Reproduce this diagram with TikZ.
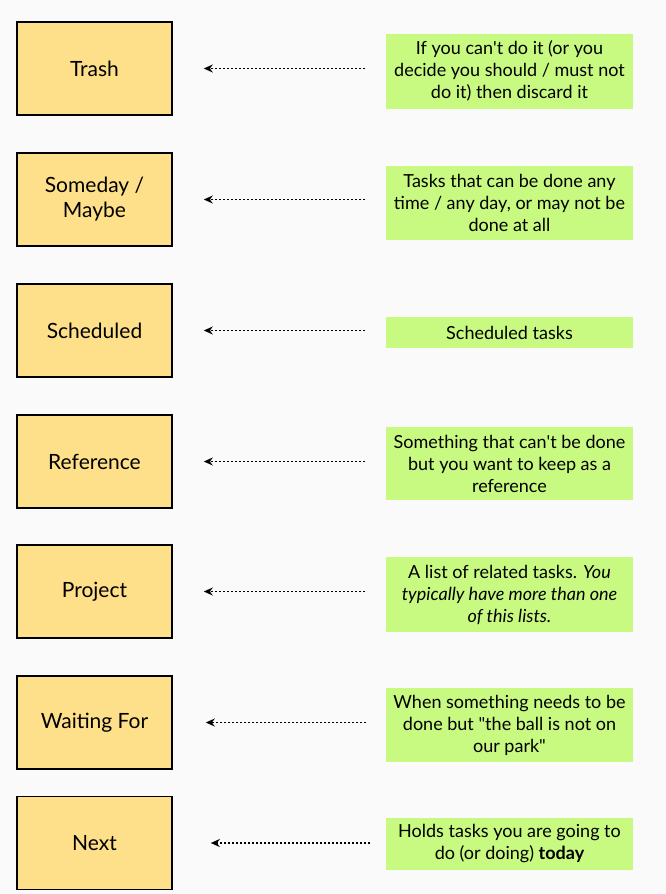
\documentclass[tikz,border=0pt]{standalone}
\usepackage{fontspec}
\setmainfont{Lato}
\usetikzlibrary{arrows.meta}
\definecolor{bgray}{HTML}{FAFAFA}
\definecolor{listyellow}{HTML}{FEDF8A}
\definecolor{notegreen}{HTML}{C8F980}

\begin{document}
\begin{tikzpicture}[x=1pt, y=-1pt, >={Stealth[length=9pt,width=8pt]},
  listbox/.style={draw=black, line width=1.6pt, fill=listyellow,
    minimum width=155pt, minimum height=93pt, align=center,
    font=\fontsize{21}{25}\selectfont},
  note/.style={fill=notegreen, minimum width=247pt, inner xsep=4pt,
    align=center, font=\fontsize{18}{22}\selectfont},
  flow/.style={->, line width=1.9pt, dash pattern=on 1.8pt off 2.2pt,
    shorten >=31pt, shorten <=21pt}]
  \fill[bgray] (0,0) rectangle (666,894);
  \useasboundingbox (0,0) rectangle (666,894);

  % the lists
  \node[listbox] (trash) at (94.5,68.5) {Trash};
  \node[listbox] (someday) at (94.5,199.5) {Someday /\\Maybe};
  \node[listbox] (sched) at (94.5,330.5) {Scheduled};
  \node[listbox] (ref) at (94.5,461.5) {Reference};
  \node[listbox] (proj) at (94.5,591.5) {Project};
  \node[listbox] (wait) at (94.5,722.5) {Waiting For};
  \node[listbox] (next) at (94.5,843) {Next};

  % what goes in each list
  \node[note, minimum height=75pt] (trashN) at (509.5,71)
    {If you can\textquotesingle t do it (or you\\decide you should / must not\\do it) then discard it};
  \node[note, minimum height=74pt] (somedayN) at (509.5,203)
    {Tasks that can be done any\\time / any day, or may not be\\done at all};
  \node[note, minimum height=31pt] (schedN) at (509.5,332.5) {Scheduled tasks};
  \node[note, minimum height=73pt] (refN) at (509.5,463.5)
    {Something that can\textquotesingle t be done\\but you want to keep as a\\reference};
  \node[note, minimum height=75pt] (projN) at (509.5,594.5)
    {A list of related tasks. \textit{You}\\\textit{typically have more than one}\\\textit{of this lists.}};
  \node[note, minimum height=74pt] (waitN) at (509.5,725)
    {When something needs to be\\done but \textquotedbl the ball is not on\\our park\textquotedbl};
  \node[note, minimum height=52pt] (nextN) at (509.5,844)
    {Holds tasks you are going to\\do (or doing) \textbf{today}};

  % arrows back to the lists
  \draw[flow] (trashN.west |- trash.east) -- (trash.east);
  \draw[flow] (somedayN.west |- someday.east) -- (someday.east);
  \draw[flow] (schedN.west |- sched.east) -- (sched.east);
  \draw[flow] (refN.west |- ref.east) -- (ref.east);
  \draw[flow] (projN.west |- proj.east) -- (proj.east);
  \draw[flow, shorten >=33pt, shorten <=20pt] (waitN.west |- wait.east) -- (wait.east);
  \draw[flow, shorten >=38pt, shorten <=16pt] (nextN.west |- next.east) -- (next.east);
\end{tikzpicture}
\end{document}
